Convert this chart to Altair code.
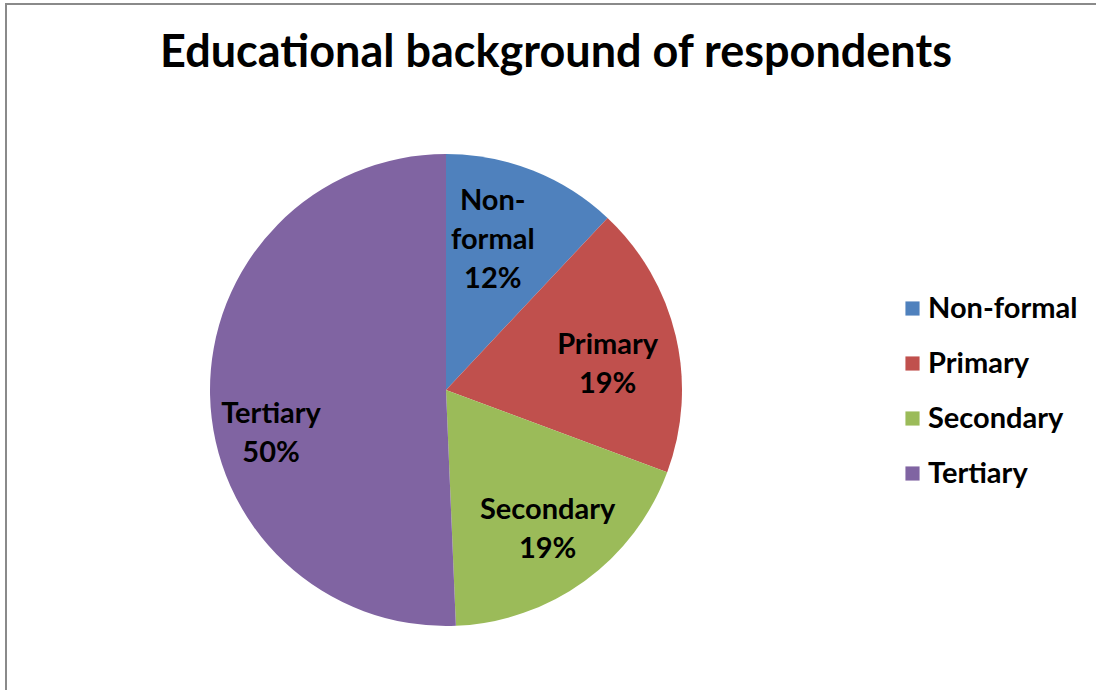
import altair as alt
import pandas as pd

categories = ["Non-formal", "Primary", "Secondary", "Tertiary"]
counts = [9, 14, 14, 38]
pct_labels = ["12%", "19%", "19%", "50%"]
slice_names = ["Non-\nformal", "Primary", "Secondary", "Tertiary"]
colors = ["#4F81BD", "#C0504D", "#9BBB59", "#8064A2"]

df = pd.DataFrame({
    "category": categories,
    "count": counts,
    "order": list(range(len(categories))),
    "label": [f"{n}\n{p}" for n, p in zip(slice_names, pct_labels)],
})
total = sum(counts)

FONT = "Lato"
W, H = 1090, 686
CX, CY = 440, 386

# label placement tweaks (radius, x shift, y shift) per slice — styling only
place = {
    "Non-formal": (157, -11, -4),
    "Primary": (164, 2, 12),
    "Secondary": (173, 0, 0),
    "Tertiary": (180, 5, 40),
}


def pick(idx):
    parts = [f"datum.category == '{k}' ? {v[idx]}" for k, v in place.items()]
    return " : ".join(parts) + " : 0"


color = alt.Color(
    "category:N",
    scale=alt.Scale(domain=categories, range=colors),
    legend=alt.Legend(
        title=None,
        orient="none",
        legendX=892,
        legendY=290,
        symbolType="square",
        symbolSize=200,
        symbolStrokeWidth=0,
        labelFontSize=29,
        labelFont=FONT,
        labelFontWeight="bold",
        labelColor="#000000",
        labelOffset=1,
        rowPadding=25,
        labelLimit=300,
    ),
)

pie = alt.Chart(df).mark_arc(outerRadius=236, stroke=None).encode(
    theta=alt.Theta("count:Q", stack=True),
    order=alt.Order("order:Q"),
    color=color,
    x=alt.value(CX),
    y=alt.value(CY),
)

text = alt.Chart(df).transform_window(
    cum="sum(count)", sort=[alt.SortField("order")], frame=[None, 0]
).transform_calculate(
    mid="datum.cum - datum.count / 2",
    lr=pick(0),
    xo=pick(1),
    yo=f"({pick(2)}) - (split(datum.label, '\\n').length - 1) * 19.5",
).mark_text(
    font=FONT,
    fontSize=29,
    fontWeight="bold",
    color="#000000",
    lineBreak="\n",
    lineHeight=39,
    align="center",
    baseline="middle",
).encode(
    theta=alt.Theta("mid:Q", stack=None, scale=alt.Scale(domain=[0, total])),
    text="label:N",
    radius=alt.Radius("lr:Q", scale=None),
    xOffset=alt.XOffset("xo:Q", scale=None),
    yOffset=alt.YOffset("yo:Q", scale=None),
    x=alt.value(CX),
    y=alt.value(CY),
)

frame_src = pd.DataFrame({"edge": ["left"]})
left_edge = alt.Chart(frame_src).mark_rule(color="#8a8a8a", strokeWidth=2).encode(
    x=alt.value(0), y=alt.value(0), y2=alt.value(H)
)
top_edge = alt.Chart(frame_src).mark_rule(color="#8a8a8a", strokeWidth=2).encode(
    x=alt.value(-1), x2=alt.value(W), y=alt.value(0)
)

chart = (
    alt.layer(pie, text, left_edge, top_edge)
    .properties(
        width=W,
        height=H,
        padding={"left": 6, "top": 4, "right": 0, "bottom": 0},
        autosize=alt.AutoSizeParams(type="none"),
        title=alt.TitleParams(
            "Educational background of respondents",
            font=FONT,
            fontSize=45,
            fontWeight="bold",
            color="#000000",
            anchor="middle",
            dx=5,
            offset=-109,
            baseline="alphabetic",
        ),
    )
    .configure_view(stroke=None)
    .configure(background="white")
)

chart.save("out.html", embed_options={"renderer": "svg", "actions": False})
